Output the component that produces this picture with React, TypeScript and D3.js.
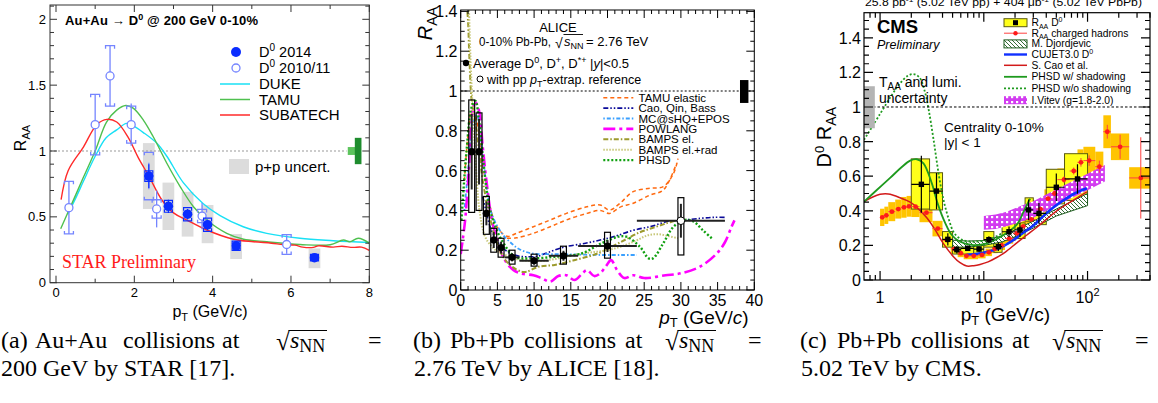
import React from 'react';
import * as d3 from 'd3';

type Pt = [number, number];

/* ================= (a) STAR Au+Au 200 GeV ================= */
const starXTicks = [0, 2, 4, 6, 8];
const starXMinor = [1, 3, 5, 7];
const starYTicks = [0, 0.5, 1, 1.5, 2];
const starYTickLabels = ['0', '0.5', '1', '1.5', '2'];

const star14Pt = [2.37, 2.87, 3.36, 3.87, 4.6, 6.6];
const star14Raa = [0.81, 0.58, 0.52, 0.44, 0.28, 0.19];
const star14Stat = [0.09, 0.05, 0.04, 0.04, 0.03, 0.02];
const star14Sys = [0.04, 0.045, 0.05, 0.05, 0.035, 0.025];
const star14PpLo = [0.56, 0.40, 0.35, 0.30, 0.18, 0.11];
const star14PpHi = [1.06, 0.76, 0.69, 0.59, 0.37, 0.26];

const star11Pt = [0.33, 1.0, 1.38, 1.92, 2.37, 2.57, 3.73, 5.89];
const star11Raa = [0.57, 1.2, 1.57, 1.2, 0.81, 0.56, 0.506, 0.29];
const star11Stat = [0.2, 0.23, 0.23, 0.16, 0.1, 0.14, 0.1, 0.07];
const star11Sys = [0.2, 0.23, 0.23, 0.14, 0.18, 0.07, 0.05, 0.075];

const dukeCurve: Pt[] = [[0.3, 0.52], [0.5, 0.64], [0.7, 0.77], [1.0, 0.96], [1.28, 1.1], [1.55, 1.16], [1.8, 1.21], [1.97, 1.19], [2.23, 1.14], [2.57, 1.06], [2.83, 0.96], [3.25, 0.76], [3.76, 0.6], [4.19, 0.51], [4.78, 0.425], [5.38, 0.375], [6.23, 0.337], [7.08, 0.319], [8.0, 0.305]];
const tamuCurve: Pt[] = [[0.12, 0.41], [0.36, 0.57], [0.7, 0.8], [1.0, 1.0], [1.29, 1.22], [1.55, 1.31], [1.78, 1.345], [1.97, 1.325], [2.23, 1.235], [2.48, 1.11], [2.83, 0.907], [3.17, 0.73], [3.51, 0.577], [3.85, 0.476], [4.36, 0.375], [4.79, 0.33], [5.38, 0.311], [6.23, 0.29], [7.0, 0.288], [7.34, 0.324], [7.5, 0.31], [7.72, 0.337], [8.0, 0.3]];
const subatechCurve: Pt[] = [[0.13, 0.63], [0.31, 0.85], [0.7, 1.03], [1.04, 1.2], [1.3, 1.24], [1.55, 1.22], [1.85, 1.1], [2.1, 0.95], [2.37, 0.81], [2.7, 0.63], [3.0, 0.53], [3.34, 0.476], [3.85, 0.4], [4.53, 0.33], [5.04, 0.311], [5.5, 0.3], [5.8, 0.29], [6.1, 0.285], [6.3, 0.27], [6.57, 0.268], [6.7, 0.28], [7.08, 0.27], [7.3, 0.277], [7.58, 0.268], [7.8, 0.27], [8.0, 0.245]];

/* ================= (b) ALICE Pb-Pb 2.76 TeV ================= */
const aliceXTicks = [0, 5, 10, 15, 20, 25, 30, 35, 40];
const aliceYTicks = [0, 0.2, 0.4, 0.6, 0.8, 1, 1.2, 1.4];
const aliceYTickLabels = ['0', '0.2', '0.4', '0.6', '0.8', '1', '1.2', '1.4'];

const alicePt = [1.5, 2.5, 3.5, 4.5, 5.5, 7, 10, 14, 20];
const aliceRaa = [0.695, 0.695, 0.385, 0.251, 0.213, 0.164, 0.147, 0.172, 0.221];
const aliceXErr = [0.5, 0.5, 0.5, 0.5, 0.5, 1, 2, 2, 4];
const aliceStat = [0.19, 0.165, 0.06, 0.04, 0.03, 0.02, 0.02, 0.025, 0.03];
const aliceSysLo = [0.39, 0.4, 0.28, 0.19, 0.165, 0.13, 0.12, 0.13, 0.16];
const aliceSysHi = [0.955, 0.89, 0.47, 0.31, 0.26, 0.2, 0.18, 0.22, 0.29];
const aliceExtrapPt = [30];
const aliceExtrapRaa = [0.348];
const aliceExtrapXErr = [6];
const aliceExtrapStat = [0.085];
const aliceExtrapSysLo = [0.176];
const aliceExtrapSysHi = [0.464];

const aliceModelNames = ['TAMU elastic', 'Cao, Qin, Bass', 'MC@sHQ+EPOS', 'POWLANG', 'BAMPS el.', 'BAMPS el.+rad', 'PHSD'];
const tamuElUpper: Pt[] = [[0.5, 0.55], [1, 0.78], [1.5, 0.9], [2, 0.88], [2.5, 0.78], [3, 0.63], [3.5, 0.52], [4, 0.42], [4.9, 0.32], [6.3, 0.27], [7.6, 0.285], [9.9, 0.318], [12.2, 0.352], [14.4, 0.385], [17.2, 0.418], [19, 0.427], [20.3, 0.402], [21.7, 0.436], [23.5, 0.494], [25.8, 0.511], [27.6, 0.519], [29, 0.586], [29.6, 0.66]];
const tamuElLower: Pt[] = [[6.3, 0.26], [7.6, 0.262], [9.9, 0.285], [12.2, 0.318], [14.4, 0.352], [17.2, 0.385], [19, 0.4], [20.3, 0.385], [21.8, 0.418], [23.5, 0.436], [25.8, 0.477], [27.6, 0.502], [29.4, 0.636]];
const caoQinBass: Pt[] = [[3, 0.47], [4, 0.32], [4.9, 0.25], [5.8, 0.21], [6.7, 0.184], [8, 0.17], [9, 0.167], [10.5, 0.17], [12, 0.19], [14, 0.215], [17, 0.235], [19, 0.251], [21, 0.27], [23.5, 0.3], [26, 0.32], [28, 0.343], [30, 0.35], [32.6, 0.36], [34.5, 0.365], [36.2, 0.365]];
const mcSHQ: Pt[] = [[0.5, 0.4], [1, 0.6], [1.5, 0.8], [2.2, 0.88], [3, 0.68], [3.6, 0.5], [4.2, 0.385], [5.6, 0.285], [6.9, 0.235], [8, 0.205], [9.7, 0.184], [13, 0.18], [16, 0.178], [19, 0.176], [22, 0.176], [24, 0.176]];
const powlang: Pt[] = [[0, 0.18], [0.6, 0.35], [1.1, 0.6], [1.5, 0.85], [1.95, 0.945], [2.5, 0.9], [3, 0.72], [3.6, 0.52], [4.2, 0.36], [4.7, 0.285], [5.5, 0.19], [6.3, 0.134], [7.2, 0.1], [8.1, 0.084], [9.9, 0.074], [11, 0.06], [12.2, 0.042], [13.3, 0.07], [14.4, 0.074], [15.5, 0.05], [16.5, 0.08], [17.2, 0.1], [18.2, 0.07], [19, 0.084], [19.8, 0.12], [20.5, 0.15], [21.3, 0.1], [22.3, 0.06], [23.5, 0.074], [25, 0.06], [27.9, 0.074], [30, 0.084], [32.6, 0.117], [34.9, 0.184], [36, 0.24], [36.9, 0.318], [37.3, 0.35]];
const bampsEl: Pt[] = [[0.8, 1.45], [1.0, 1.35], [1.2, 1.15], [1.5, 0.95], [2, 0.85], [2.5, 0.7], [3, 0.55], [4, 0.36], [5, 0.23], [6, 0.155], [7, 0.117], [8.3, 0.092], [9, 0.092], [10.6, 0.117], [12.8, 0.126], [15.6, 0.151], [18.7, 0.184], [21.5, 0.235], [24.4, 0.29], [26, 0.31], [28, 0.335], [29.4, 0.35]];
const bampsElRad: Pt[] = [[1.1, 1.45], [1.4, 1.1], [1.8, 0.8], [2.2, 0.55], [2.6, 0.39], [3.3, 0.27], [4.2, 0.22], [5, 0.195], [6.5, 0.17], [8, 0.152], [10, 0.145], [12, 0.15], [14, 0.165], [16, 0.18], [18, 0.19], [20, 0.2], [22, 0.22], [24, 0.25], [25.5, 0.275], [27, 0.28], [28.4, 0.27], [29.6, 0.26]];
const phsdAlice: Pt[] = [[0.1, 0.35], [0.8, 0.7], [1.5, 0.92], [2, 0.95], [2.5, 0.85], [3.1, 0.64], [3.8, 0.436], [4.4, 0.352], [5.6, 0.25], [7.4, 0.167], [9.7, 0.159], [12.8, 0.167], [16.5, 0.184], [19.2, 0.235], [21.5, 0.268], [22.6, 0.268], [24.4, 0.218], [25.6, 0.159], [26.2, 0.159], [27.6, 0.235], [29, 0.318], [30.6, 0.352], [31.7, 0.345], [33, 0.3], [34.2, 0.26]];

/* ================= (c) CMS Pb-Pb 5.02 TeV ================= */
const cmsYTicks = [0, 0.2, 0.4, 0.6, 0.8, 1, 1.2, 1.4];
const cmsYTickLabels = ['0', '0.2', '0.4', '0.6', '0.8', '1', '1.2', '1.4'];
const cmsXTicks = [1, 10, 100];

const cmsD0Lo = [2, 3, 4, 5, 6, 8, 10, 12.5, 15, 20, 25, 30, 40, 60];
const cmsD0Hi = [3, 4, 5, 6, 8, 10, 12.5, 15, 20, 25, 30, 40, 60, 100];
const cmsD0Pt = [2.5, 3.5, 4.5, 5.5, 7, 9, 11.2, 13.8, 17.5, 22.3, 27, 34, 50, 80];
const cmsD0Raa = [0.553, 0.514, 0.235, 0.175, 0.183, 0.179, 0.233, 0.193, 0.279, 0.289, 0.405, 0.385, 0.536, 0.584];
const cmsD0Stat = [0.165, 0.105, 0.035, 0.022, 0.015, 0.015, 0.02, 0.025, 0.03, 0.04, 0.06, 0.06, 0.08, 0.085];
const cmsD0SysLo = [0.41, 0.405, 0.19, 0.15, 0.15, 0.15, 0.19, 0.16, 0.23, 0.24, 0.34, 0.32, 0.44, 0.46];
const cmsD0SysHi = [0.7, 0.62, 0.28, 0.205, 0.215, 0.21, 0.28, 0.225, 0.33, 0.33, 0.475, 0.455, 0.64, 0.73];

const chPt = [1.05, 1.15, 1.3, 1.5, 1.7, 1.9, 2.2, 2.8, 3.6, 4.4, 5.2, 6.0, 6.8, 8.0, 9.6, 11.2, 12.8, 14.8, 17.6, 20.8, 24, 28.8, 35.2, 41.6, 48, 59.2, 73.6, 86.4, 103.6, 130, 155, 206, 326];
const chLo = [1.0, 1.1, 1.2, 1.4, 1.6, 1.8, 2.0, 2.4, 3.2, 4.0, 4.8, 5.6, 6.4, 7.2, 8.8, 10.4, 12.0, 13.6, 16.0, 19.2, 22.4, 25.6, 32.0, 38.4, 44.8, 51.2, 67.2, 80.0, 91.2, 118.7, 142, 168, 252];
const chHi = [1.1, 1.2, 1.4, 1.6, 1.8, 2.0, 2.4, 3.2, 4.0, 4.8, 5.6, 6.4, 7.2, 8.8, 10.4, 12.0, 13.6, 16.0, 19.2, 22.4, 25.6, 32.0, 38.4, 44.8, 51.2, 67.2, 80.0, 91.2, 118.7, 142, 168, 252, 400];
const chRaa = [0.362, 0.374, 0.395, 0.41, 0.42, 0.426, 0.424, 0.389, 0.297, 0.23, 0.18, 0.155, 0.14, 0.14, 0.145, 0.16, 0.18, 0.2, 0.24, 0.27, 0.31, 0.35, 0.41, 0.47, 0.5, 0.58, 0.63, 0.68, 0.69, 0.655, 0.857, 0.77, 0.59];
const chSys = [0.05, 0.05, 0.055, 0.055, 0.06, 0.06, 0.06, 0.055, 0.045, 0.035, 0.027, 0.023, 0.02, 0.02, 0.02, 0.022, 0.025, 0.027, 0.03, 0.034, 0.038, 0.042, 0.048, 0.054, 0.058, 0.065, 0.07, 0.075, 0.08, 0.087, 0.095, 0.077, 0.062];
const chStat = [0.004, 0.004, 0.004, 0.004, 0.004, 0.004, 0.004, 0.004, 0.004, 0.004, 0.004, 0.004, 0.004, 0.004, 0.004, 0.004, 0.005, 0.005, 0.006, 0.007, 0.008, 0.01, 0.012, 0.014, 0.016, 0.018, 0.02, 0.025, 0.03, 0.035, 0.04, 0.07, 0.235];

const cujetCurve: Pt[] = [[6.85, 0.145], [8, 0.148], [9.9, 0.157], [12, 0.17], [14.3, 0.185], [17, 0.21], [20.8, 0.245], [24.2, 0.275], [30, 0.315], [37.6, 0.37], [47, 0.42], [58.5, 0.46], [75, 0.5], [98.5, 0.53]];
const caoCmsCurve: Pt[] = [[0.7, 0.453], [0.85, 0.48], [1.0, 0.495], [1.2, 0.497], [1.34, 0.49], [1.56, 0.475], [1.95, 0.45], [2.26, 0.42], [2.82, 0.36], [3.4, 0.29], [4.08, 0.21], [5.1, 0.135], [5.9, 0.1], [6.85, 0.081], [8, 0.083], [9.2, 0.09], [11, 0.105], [13.3, 0.13], [16, 0.16], [20.8, 0.215], [26, 0.26], [32.5, 0.305], [40, 0.35], [50.5, 0.4], [70, 0.455], [98.5, 0.51]];
const phsdWCurve: Pt[] = [[0.7, 0.453], [0.93, 0.52], [1.25, 0.59], [1.6, 0.65], [1.95, 0.69], [2.26, 0.698], [2.62, 0.674], [3.15, 0.56], [3.6, 0.44], [4.24, 0.33], [4.91, 0.26], [5.9, 0.221], [7.95, 0.202], [10.7, 0.212], [15.5, 0.26], [20.8, 0.32], [24.2, 0.395], [27, 0.453], [28, 0.47]];
const phsdWoCurve: Pt[] = [[0.7, 0.81], [1.0, 0.96], [1.3, 1.07], [1.56, 1.137], [1.85, 1.18], [2.1, 1.19], [2.4, 1.17], [2.7, 1.09], [2.95, 0.98], [3.3, 0.8], [3.7, 0.6], [4.1, 0.46], [4.6, 0.35], [5.2, 0.27], [6.2, 0.232], [7.5, 0.222], [8.5, 0.222], [10.7, 0.231], [13, 0.25], [15, 0.27]];
const djordTop: Pt[] = [[5, 0.23], [7, 0.225], [10, 0.228], [15, 0.255], [20, 0.29], [30, 0.34], [50, 0.41], [100, 0.5]];
const djordBot: Pt[] = [[5, 0.19], [7, 0.19], [10, 0.2], [15, 0.22], [20, 0.25], [30, 0.3], [50, 0.37], [100, 0.43]];
const vitevTop: Pt[] = [[10, 0.37], [13, 0.378], [16.6, 0.395], [20, 0.415], [30, 0.455], [50, 0.525], [80, 0.585], [147, 0.665]];
const vitevBot: Pt[] = [[10, 0.29], [13, 0.295], [16.6, 0.31], [20, 0.325], [30, 0.36], [50, 0.43], [80, 0.49], [147, 0.57]];
const cmsLegendNames = ['D', 'charged hadrons', 'M. Djordjevic', 'CUJET3.0 D', 'S. Cao et al.', 'PHSD w/ shadowing', 'PHSD w/o shadowing', 'I.Vitev (g=1.8-2.0)'];

/* ================= helpers ================= */
const SANS = "'Liberation Sans', Arial, Helvetica, sans-serif";
const SERIF = "'Liberation Serif', 'Times New Roman', serif";

type Frame = { l: number; r: number; t: number; b: number };

function FrameTicks(p: { xs: (v: number) => number; ys: (v: number) => number; fr: Frame; xMaj: number[]; xMin: number[]; yMaj: number[]; yMin: number[]; maj: number; min: number; stroke?: string; sw?: number }) {
  const { l, r, t, b } = p.fr;
  let d = '';
  const addX = (v: number, len: number) => { const x = p.xs(v); d += `M${x},${b}V${b - len}M${x},${t}V${t + len}`; };
  const addY = (v: number, len: number) => { const y = p.ys(v); d += `M${l},${y}H${l + len}M${r},${y}H${r - len}`; };
  p.xMaj.forEach(v => addX(v, p.maj));
  p.xMin.forEach(v => addX(v, p.min));
  p.yMaj.forEach(v => addY(v, p.maj));
  p.yMin.forEach(v => addY(v, p.min));
  const s = p.stroke || '#000';
  return (
    <g>
      <path d={d} stroke={s} strokeWidth={p.sw || 1} fill="none" />
      <rect x={l} y={t} width={r - l} height={b - t} fill="none" stroke={s} strokeWidth={p.sw || 1} />
    </g>
  );
}

function minorRange(a: number, b: number, step: number, majStep: number) {
  return d3.range(a, b + 1e-9, step).filter(v => Math.abs(v / majStep - Math.round(v / majStep)) > 1e-6);
}

/* ================= Panel A ================= */
function PanelA() {
  const xs = d3.scaleLinear().domain([0, 8]).range([56, 369.3]);
  const ys = d3.scaleLinear().domain([0, 2]).range([282.7, 19.3]);
  const fr: Frame = { l: 50, r: 369.3, t: 5, b: 282.7 };
  const line = d3.line<Pt>().x(d => xs(d[0])).y(d => ys(d[1])).curve(d3.curveCatmullRom.alpha(0.5));
  const blue = '#0a2cff';
  const lblue = '#7585ff';
  const bracket = (x: number, yT: number, yB: number, w: number) =>
    `M${x - w},${yT + 3}V${yT}H${x + w}V${yT + 3}M${x - w},${yB - 3}V${yB}H${x + w}V${yB - 3}`;
  return (
    <g fontFamily={SANS}>
      <defs>
        <clipPath id="clipA"><rect x={fr.l} y={fr.t} width={fr.r - fr.l} height={fr.b - fr.t} /></clipPath>
      </defs>
      {star14Pt.map((p, i) => (
        <rect key={'pp' + i} x={xs(p - 0.15)} y={ys(star14PpHi[i])} width={xs(p + 0.15) - xs(p - 0.15)} height={ys(star14PpLo[i]) - ys(star14PpHi[i])} fill="#dcdcdc" />
      ))}
      <line x1={fr.l} x2={xs(7.42)} y1={ys(1)} y2={ys(1)} stroke="#999" strokeWidth={1} strokeDasharray="2,2" />
      <g clipPath="url(#clipA)" fill="none" strokeWidth={1.4}>
        <path d={line(dukeCurve) || ''} stroke="#19e0f5" />
        <path d={line(tamuCurve) || ''} stroke="#4fc04f" />
        <path d={line(subatechCurve) || ''} stroke="#ff2a2a" />
      </g>
      {star11Pt.map((p, i) => {
        const x = xs(p), y = ys(star11Raa[i]);
        return (
          <g key={'o' + i} stroke={lblue} fill="none" strokeWidth={1.3}>
            <line x1={x} x2={x} y1={ys(star11Raa[i] + star11Stat[i])} y2={y - 4} />
            <line x1={x} x2={x} y1={y + 4} y2={ys(star11Raa[i] - star11Stat[i])} />
            <path d={bracket(x, ys(star11Raa[i] + star11Sys[i]), ys(star11Raa[i] - star11Sys[i]), 4.5)} />
            <circle cx={x} cy={y} r={4} fill="#fff" />
          </g>
        );
      })}
      {star14Pt.map((p, i) => {
        const x = xs(p), y = ys(star14Raa[i]);
        return (
          <g key={'f' + i} stroke={blue} fill="none" strokeWidth={1.2}>
            <line x1={x} x2={x} y1={ys(star14Raa[i] + star14Stat[i])} y2={ys(star14Raa[i] - star14Stat[i])} />
            <path d={bracket(x, ys(star14Raa[i] + star14Sys[i]), ys(star14Raa[i] - star14Sys[i]), 4)} />
            <circle cx={x} cy={y} r={4.8} fill={blue} stroke="none" />
          </g>
        );
      })}
      <rect x={xs(7.45)} y={ys(1.03)} width={xs(7.66) - xs(7.45)} height={ys(0.97) - ys(1.03)} fill="#5cc45c" />
      <rect x={xs(7.63)} y={ys(1.1)} width={xs(7.8) - xs(7.63)} height={ys(0.9) - ys(1.1)} fill="#1e8c2e" />
      <text x={65} y={25} fontSize={13} fontWeight="bold" textLength={193} lengthAdjust="spacing">Au+Au → D<tspan dy={-5} fontSize={9}>0</tspan><tspan dy={5}> @ 200 GeV 0-10%</tspan></text>
      <circle cx={236} cy={52} r={5} fill={blue} />
      <text x={259} y={57} fontSize={14.5}>D<tspan dy={-6} fontSize={10}>0</tspan><tspan dy={6}> 2014</tspan></text>
      <circle cx={236} cy={68} r={4} fill="#fff" stroke={lblue} strokeWidth={1.3} />
      <text x={259} y={73} fontSize={14.5}>D<tspan dy={-6} fontSize={10}>0</tspan><tspan dy={6}> 2010/11</tspan></text>
      <line x1={220} x2={250} y1={84} y2={84} stroke="#19e0f5" strokeWidth={1.5} />
      <text x={259} y={89} fontSize={15}>DUKE</text>
      <line x1={220} x2={250} y1={99.5} y2={99.5} stroke="#4fc04f" strokeWidth={1.5} />
      <text x={259} y={104.5} fontSize={15}>TAMU</text>
      <line x1={220} x2={250} y1={115} y2={115} stroke="#ff2a2a" strokeWidth={1.5} />
      <text x={259} y={120} fontSize={15}>SUBATECH</text>
      <rect x={229} y={159} width={20} height={15} fill="#dcdcdc" />
      <text x={255} y={172} fontSize={15}>p+p uncert.</text>
      <text x={62} y={268} fontSize={18} fontFamily={SERIF} fill="#ff1a1a">STAR Preliminary</text>
      <FrameTicks xs={xs} ys={ys} fr={fr} xMaj={starXTicks} xMin={starXMinor} yMaj={starYTicks} yMin={minorRange(0, 2.1, 0.1, 0.5)} maj={7} min={4} stroke="#333" />
      {starXTicks.map(v => <text key={'xa' + v} x={xs(v)} y={297} fontSize={13} textAnchor="middle">{v}</text>)}
      {starYTicks.map((v, i) => <text key={'ya' + v} x={46} y={ys(v) + 4.5} fontSize={13} textAnchor="end">{starYTickLabels[i]}</text>)}
      <text x={210} y={317} fontSize={16} textAnchor="middle">p<tspan dy={4} fontSize={11}>T</tspan><tspan dy={-4}> (GeV/c)</tspan></text>
      <text transform="translate(26,138) rotate(-90)" fontSize={16} textAnchor="middle">R<tspan dy={4} fontSize={11}>AA</tspan></text>
    </g>
  );
}

/* ================= Panel B ================= */
function PanelB() {
  const xs = d3.scaleLinear().domain([0, 40]).range([460.7, 754.3]);
  const ys = d3.scaleLinear().domain([0, 1.4]).range([290, 11.4]);
  const fr: Frame = { l: 460.7, r: 754.3, t: 10, b: 290 };
  const line = d3.line<Pt>().x(d => xs(d[0])).y(d => ys(d[1])).curve(d3.curveCatmullRom.alpha(0.5));
  const styles = [
    { c: '#ff6a10', w: 1.5, da: '4,3' },
    { c: '#0a0a99', w: 1.6, da: '5,2,1.5,2,1.5,2' },
    { c: '#3aa0ff', w: 1.8, da: '1.5,2,4,2' },
    { c: '#ff00ff', w: 2.6, da: '12,4,3,4' },
    { c: '#9c9a2c', w: 2, da: '5,2,1.5,2' },
    { c: '#c8c87a', w: 2, da: '1.5,1.5' },
    { c: '#10a010', w: 2.4, da: '2,2' },
  ];
  const curves = [[tamuElUpper, tamuElLower], [caoQinBass], [mcSHQ], [powlang], [bampsEl], [bampsElRad], [phsdAlice]];
  const legendY = [97.7, 108.1, 118.5, 128.9, 139.3, 149.7, 160.1];
  return (
    <g fontFamily={SANS}>
      <defs>
        <clipPath id="clipB"><rect x={fr.l} y={fr.t} width={fr.r - fr.l} height={fr.b - fr.t} /></clipPath>
      </defs>
      <line x1={fr.l} x2={fr.r} y1={ys(1)} y2={ys(1)} stroke="#000" strokeWidth={1} strokeDasharray="2,2" />
      <g clipPath="url(#clipB)" fill="none">
        {curves.map((cs, i) => cs.map((c, j) => (
          <path key={'c' + i + '_' + j} d={line(c as Pt[]) || ''} stroke={styles[i].c} strokeWidth={styles[i].w} strokeDasharray={styles[i].da} />
        )))}
      </g>
      {alicePt.map((p, i) => {
        const x = xs(p), y = ys(aliceRaa[i]);
        return (
          <g key={'d' + i}>
            <rect x={xs(p - 0.4)} y={ys(aliceSysHi[i])} width={xs(p + 0.4) - xs(p - 0.4)} height={ys(aliceSysLo[i]) - ys(aliceSysHi[i])} fill="none" stroke="#000" strokeWidth={1.2} />
            <line x1={xs(p - aliceXErr[i])} x2={xs(p + aliceXErr[i])} y1={y} y2={y} stroke="#222" strokeWidth={2} />
            <line x1={x} x2={x} y1={ys(aliceRaa[i] + aliceStat[i])} y2={ys(aliceRaa[i] - aliceStat[i])} stroke="#222" strokeWidth={2} />
            <circle cx={x} cy={y} r={3.6} fill="#000" />
          </g>
        );
      })}
      {aliceExtrapPt.map((p, i) => {
        const x = xs(p), y = ys(aliceExtrapRaa[i]);
        return (
          <g key={'e' + i}>
            <rect x={xs(p - 0.4)} y={ys(aliceExtrapSysHi[i])} width={xs(p + 0.4) - xs(p - 0.4)} height={ys(aliceExtrapSysLo[i]) - ys(aliceExtrapSysHi[i])} fill="none" stroke="#000" strokeWidth={1.2} />
            <line x1={xs(p - aliceExtrapXErr[i])} x2={xs(p + aliceExtrapXErr[i])} y1={y} y2={y} stroke="#222" strokeWidth={2} />
            <line x1={x} x2={x} y1={ys(aliceExtrapRaa[i] + aliceExtrapStat[i])} y2={ys(aliceExtrapRaa[i] - aliceExtrapStat[i])} stroke="#222" strokeWidth={2} />
            <circle cx={x} cy={y} r={3.8} fill="#fff" stroke="#000" strokeWidth={1} />
          </g>
        );
      })}
      <rect x={xs(38.05)} y={ys(1.055)} width={xs(39.2) - xs(38.05)} height={ys(0.94) - ys(1.055)} fill="#000" />
      <text x={558} y={31.5} fontSize={13} textAnchor="middle">ALICE</text>
      <text x={479} y={46} fontSize={12.5} textLength={72} lengthAdjust="spacingAndGlyphs">0-10% Pb-Pb,</text>
      <text x={555} y={47.5} fontSize={14}>√</text>
      <line x1={563.5} x2={583} y1={34.5} y2={34.5} stroke="#000" strokeWidth={0.9} />
      <text x={564} y={46} fontSize={13}><tspan fontStyle="italic">s</tspan><tspan dy={3} fontSize={9}>NN</tspan></text>
      <text x={586} y={46} fontSize={13}>= 2.76 TeV</text>
      <circle cx={466} cy={63} r={3.2} fill="#000" />
      <text x={473} y={67.5} fontSize={13}>Average D<tspan dy={-5} fontSize={9}>0</tspan><tspan dy={5}>, D</tspan><tspan dy={-5} fontSize={9}>+</tspan><tspan dy={5}>, D</tspan><tspan dy={-5} fontSize={9}>*+</tspan><tspan dy={5}> |</tspan><tspan fontStyle="italic">y</tspan><tspan>|&lt;0.5</tspan></text>
      <circle cx={480} cy={79} r={3} fill="#fff" stroke="#000" strokeWidth={1} />
      <text x={487} y={83.5} fontSize={12.5}>with pp <tspan fontStyle="italic">p</tspan><tspan dy={3} fontSize={9}>T</tspan><tspan dy={-3}>-extrap. reference</tspan></text>
      {aliceModelNames.map((n, i) => (
        <g key={'l' + i}>
          <line x1={603.3} x2={633.3} y1={legendY[i]} y2={legendY[i]} stroke={styles[i].c} strokeWidth={styles[i].w} strokeDasharray={styles[i].da} />
          <text x={638.5} y={legendY[i] + 4} fontSize={11.5}>{n}</text>
        </g>
      ))}
      <FrameTicks xs={xs} ys={ys} fr={fr} xMaj={aliceXTicks} xMin={minorRange(0, 40, 1, 5)} yMaj={aliceYTicks} yMin={minorRange(0, 1.4, 0.05, 0.2)} maj={8} min={4} />
      {aliceXTicks.map(v => <text key={'xb' + v} x={xs(v)} y={305.5} fontSize={16} textAnchor="middle">{v}</text>)}
      {aliceYTicks.map((v, i) => <text key={'yb' + v} x={457.5} y={ys(v) + 6} fontSize={16} textAnchor="end">{aliceYTickLabels[i]}</text>)}
      <text x={748.5} y={323.5} fontSize={19} textAnchor="end"><tspan fontStyle="italic">p</tspan><tspan dy={3} fontSize={13}>T</tspan><tspan dy={-3}> (GeV/</tspan><tspan fontStyle="italic">c</tspan><tspan>)</tspan></text>
      <text transform="translate(432,7) rotate(-90)" fontSize={20} textAnchor="end"><tspan fontStyle="italic">R</tspan><tspan dy={5} fontSize={14}>AA</tspan></text>
    </g>
  );
}

/* ================= Panel C ================= */
function PanelC() {
  const xs = d3.scaleLog().domain([0.7, 400]).range([864, 1150]);
  const ys = d3.scaleLinear().domain([0, 1.545]).range([280, 12.7]);
  const fr: Frame = { l: 864, r: 1150, t: 12.7, b: 280 };
  const line = d3.line<Pt>().x(d => xs(d[0])).y(d => ys(d[1])).curve(d3.curveCatmullRom.alpha(0.5));
  const band = (top: Pt[], bot: Pt[]) => {
    const pts = [...top, ...bot.slice().reverse()];
    return (d3.line<Pt>().x(d => xs(d[0])).y(d => ys(d[1])).curve(d3.curveLinearClosed))(pts) || '';
  };
  const xMinor = [0.8, 0.9, ...d3.range(2, 10), ...d3.range(20, 100, 10), 200, 300, 400];
  const legY = [22.7, 33.2, 43.9, 54.5, 65.3, 76.8, 88.3, 100.2];
  const lx1 = 1004, lx2 = 1027;
  return (
    <g fontFamily={SANS}>
      <defs>
        <clipPath id="clipC"><rect x={fr.l} y={fr.t} width={fr.r - fr.l} height={fr.b - fr.t} /></clipPath>
        <pattern id="hatchDj" patternUnits="userSpaceOnUse" width="4" height="4">
          <rect width="4" height="4" fill="#fff" />
          <path d="M-1,-1L5,5M-1,3L1,5M3,-1L5,1" stroke="#1d5a1d" strokeWidth="0.9" />
        </pattern>
        <pattern id="vitevPat" patternUnits="userSpaceOnUse" width="5" height="5">
          <rect width="5" height="5" fill="#d23cf0" />
          <rect x="1" y="1" width="2.2" height="2.2" fill="#fff" />
        </pattern>
      </defs>
      <g clipPath="url(#clipC)">
        {chPt.map((p, i) => (
          <rect key={'cb' + i} x={xs(chLo[i])} y={ys(chRaa[i] + chSys[i])} width={xs(chHi[i]) - xs(chLo[i])} height={ys(chRaa[i] - chSys[i]) - ys(chRaa[i] + chSys[i])} fill="#ffc400" />
        ))}
        {cmsD0Pt.map((p, i) => (
          <rect key={'db' + i} x={xs(cmsD0Lo[i])} y={ys(cmsD0SysHi[i])} width={xs(cmsD0Hi[i]) - xs(cmsD0Lo[i])} height={ys(cmsD0SysLo[i]) - ys(cmsD0SysHi[i])} fill="#ffff1a" stroke="#5a5a10" strokeWidth={1} />
        ))}
        <path d={band(djordTop, djordBot)} fill="url(#hatchDj)" stroke="#1d5a1d" strokeWidth={1} />
        <path d={band(vitevTop, vitevBot)} fill="url(#vitevPat)" stroke="none" />
        <path d={line(caoCmsCurve) || ''} fill="none" stroke="#d21a1a" strokeWidth={1.5} />
        <path d={line(cujetCurve) || ''} fill="none" stroke="#1030ff" strokeWidth={2.6} />
        <path d={line(phsdWCurve) || ''} fill="none" stroke="#1e9a1e" strokeWidth={1.8} />
        <path d={line(phsdWoCurve) || ''} fill="none" stroke="#1e9a1e" strokeWidth={1.8} strokeDasharray="2,2" />
        {chPt.map((p, i) => {
          const x = xs(p), y = ys(chRaa[i]);
          return (
            <g key={'cp' + i} stroke="#ff4040" strokeWidth={1}>
              <line x1={xs(chLo[i])} x2={xs(chHi[i])} y1={y} y2={y} />
              <line x1={x} x2={x} y1={ys(chRaa[i] + chStat[i])} y2={ys(chRaa[i] - chStat[i])} />
              <circle cx={x} cy={y} r={2.4} fill="#ff1a1a" stroke="none" />
            </g>
          );
        })}
        {cmsD0Pt.map((p, i) => {
          const x = xs(p), y = ys(cmsD0Raa[i]);
          return (
            <g key={'dp' + i} stroke="#000" strokeWidth={1.2}>
              <line x1={xs(cmsD0Lo[i])} x2={xs(cmsD0Hi[i])} y1={y} y2={y} />
              <line x1={x} x2={x} y1={ys(cmsD0Raa[i] + cmsD0Stat[i])} y2={ys(cmsD0Raa[i] - cmsD0Stat[i])} />
              <rect x={x - 2.7} y={y - 2.7} width={5.4} height={5.4} fill="#000" stroke="none" />
            </g>
          );
        })}
      </g>
      <line x1={fr.l} x2={fr.r} y1={ys(1)} y2={ys(1)} stroke="#000" strokeWidth={1} strokeDasharray="2.5,2" />
      <rect x={xs(0.7)} y={ys(1.12)} width={xs(0.89) - xs(0.7)} height={ys(0.877) - ys(1.12)} fill="#b4b4b4" />
      <text x={865} y={5.5} fontSize={11.5} textLength={277} lengthAdjust="spacingAndGlyphs">25.8 pb<tspan dy={-4} fontSize={8}>-1</tspan><tspan dy={4}> (5.02 TeV pp) + 404 μb</tspan><tspan dy={-4} fontSize={8}>-1</tspan><tspan dy={4}> (5.02 TeV PbPb)</tspan></text>
      <text x={877} y={33} fontSize={18.5} fontWeight="bold">CMS</text>
      <text x={877} y={49} fontSize={12.5} fontStyle="italic">Preliminary</text>
      <text x={879} y={87} fontSize={14}>T<tspan dy={3} fontSize={10}>AA</tspan><tspan dy={-3}> and lumi.</tspan></text>
      <text x={879} y={103} fontSize={14}>uncertainty</text>
      <text x={944} y={131.5} fontSize={13.5}>Centrality 0-10%</text>
      <text x={944} y={146.5} fontSize={13.5}>|y| &lt; 1</text>
      <rect x={lx1} y={legY[0] - 4} width={lx2 - lx1} height={8} fill="#ffff1a" stroke="#5a5a10" strokeWidth={1} />
      <rect x={(lx1 + lx2) / 2 - 2.5} y={legY[0] - 2.5} width={5} height={5} fill="#000" />
      <line x1={lx1} x2={lx2} y1={legY[1]} y2={legY[1]} stroke="#ff4040" strokeWidth={1} />
      <circle cx={(lx1 + lx2) / 2} cy={legY[1]} r={2.2} fill="#ff1a1a" />
      <rect x={lx1} y={legY[2] - 4} width={lx2 - lx1} height={8} fill="url(#hatchDj)" stroke="#1d5a1d" strokeWidth={1} />
      <line x1={lx1} x2={lx2} y1={legY[3]} y2={legY[3]} stroke="#1030ff" strokeWidth={2.4} />
      <line x1={lx1} x2={lx2} y1={legY[4]} y2={legY[4]} stroke="#d21a1a" strokeWidth={1.5} />
      <line x1={lx1} x2={lx2} y1={legY[5]} y2={legY[5]} stroke="#1e9a1e" strokeWidth={1.8} />
      <line x1={lx1} x2={lx2} y1={legY[6]} y2={legY[6]} stroke="#1e9a1e" strokeWidth={1.8} strokeDasharray="2,2" />
      <rect x={lx1} y={legY[7] - 4} width={lx2 - lx1} height={8} fill="url(#vitevPat)" />
      <g fontSize={10.3}>
        <text x={1031.5} y={legY[0] + 3.5}>R<tspan dy={2.5} fontSize={7}>AA</tspan><tspan dy={-2.5}> {cmsLegendNames[0]}</tspan><tspan dy={-4} fontSize={7}>0</tspan></text>
        <text x={1031.5} y={legY[1] + 3.5}>R<tspan dy={2.5} fontSize={7}>AA</tspan><tspan dy={-2.5}> {cmsLegendNames[1]}</tspan></text>
        <text x={1031.5} y={legY[2] + 3.5}>{cmsLegendNames[2]}</text>
        <text x={1031.5} y={legY[3] + 3.5}>{cmsLegendNames[3]}<tspan dy={-4} fontSize={7}>0</tspan></text>
        <text x={1031.5} y={legY[4] + 3.5}>{cmsLegendNames[4]}</text>
        <text x={1031.5} y={legY[5] + 3.5}>{cmsLegendNames[5]}</text>
        <text x={1031.5} y={legY[6] + 3.5}>{cmsLegendNames[6]}</text>
        <text x={1031.5} y={legY[7] + 3.5}>{cmsLegendNames[7]}</text>
      </g>
      <FrameTicks xs={xs} ys={ys} fr={fr} xMaj={cmsXTicks} xMin={xMinor} yMaj={cmsYTicks} yMin={minorRange(0, 1.54, 0.05, 0.2)} maj={9} min={5} sw={1.2} />
      <text x={xs(1)} y={303} fontSize={16} textAnchor="middle">1</text>
      <text x={xs(10)} y={303} fontSize={16} textAnchor="middle">10</text>
      <text x={xs(100)} y={303} fontSize={16} textAnchor="middle">10<tspan dy={-7} fontSize={11}>2</tspan></text>
      {cmsYTicks.map((v, i) => <text key={'yc' + v} x={861} y={ys(v) + 6} fontSize={16} textAnchor="end">{cmsYTickLabels[i]}</text>)}
      <text x={1050} y={321} fontSize={19} textAnchor="end">p<tspan dy={4} fontSize={13}>T</tspan><tspan dy={-4}> (GeV/c)</tspan></text>
      <text transform="translate(831,107) rotate(-90)" fontSize={20} textAnchor="end">D<tspan dy={-7} fontSize={13}>0</tspan><tspan dy={7}> R</tspan><tspan dy={5} fontSize={14}>AA</tspan></text>
    </g>
  );
}

/* ================= Captions ================= */
function Caption(p: { x0: number; words: [string, number][]; sq: number; eq: number; line2: string }) {
  const y1 = 348, y2 = 376;
  return (
    <g fontFamily={SERIF} fontSize={24}>
      {p.words.map(([w, x], i) => <text key={i} x={p.x0 + x} y={y1}>{w}</text>)}
      <text x={p.x0 + p.sq} y={y1 + 2} fontSize={25}>√</text>
      <line x1={p.x0 + p.sq + 12.5} x2={p.x0 + p.sq + 51} y1={y1 - 17.5} y2={y1 - 17.5} stroke="#000" strokeWidth={1.1} />
      <text x={p.x0 + p.sq + 14} y={y1}><tspan fontStyle="italic">s</tspan><tspan dy={4} fontSize={18}>NN</tspan></text>
      <text x={p.x0 + p.eq} y={y1}>=</text>
      <text x={p.x0 + 1} y={y2}>{p.line2}</text>
    </g>
  );
}

export default function App() {
  return (
    <svg width={1158} height={403} viewBox="0 0 1158 403" style={{ position: 'absolute', left: 0, top: 0, background: '#fff' }}>
      <rect width={1158} height={403} fill="#fff" />
      <PanelA />
      <PanelB />
      <PanelC />
      <Caption x0={0} words={[['(a)', 1], ['Au+Au', 35], ['collisions', 123], ['at', 222]]} sq={276} eq={368} line2="200 GeV by STAR [17]." />
      <Caption x0={413} words={[['(b)', 0], ['Pb+Pb', 37], ['collisions', 111], ['at', 212]]} sq={252} eq={335} line2="2.76 TeV by ALICE [18]." />
      <Caption x0={800} words={[['(c)', 0], ['Pb+Pb', 37], ['collisions', 111], ['at', 212]]} sq={252} eq={335} line2="5.02 TeV by CMS." />
    </svg>
  );
}
